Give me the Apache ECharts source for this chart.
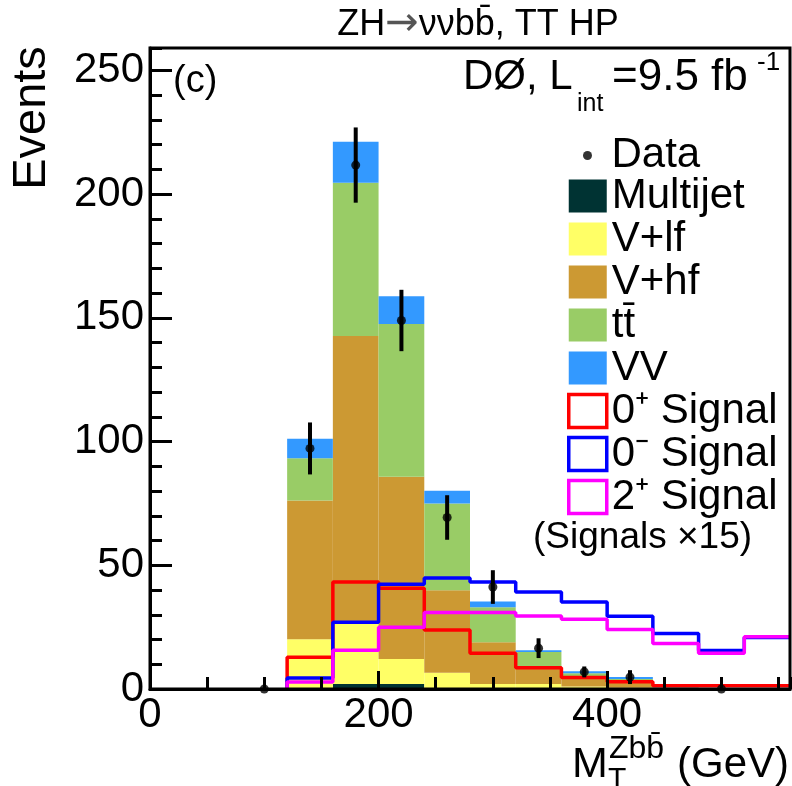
<!DOCTYPE html>
<html><head><meta charset="utf-8">
<script src="https://cdn.jsdelivr.net/npm/echarts@6/dist/echarts.min.js"></script>
<style>html,body{margin:0;padding:0;background:#fff}#c{width:792px;height:786px}</style>
</head><body><div id="c"></div>
<script>
// ---- data ----
const binEdges = [120,160,200,240,280,320,360,400,440,480,520,560];
const multijet = [0, 2.0, 2.0, 0, 0, 0, 0, 0, 0, 0, 0];
const vlf      = [20.1, 24.6, 10.1, 6.6, 2.0, 2.0, 1.0, 0.5, 0.2, 0, 0];
const vhf      = [56.1, 116.0, 73.7, 33.3, 16.9, 7.0, 3.8, 1.9, 0.3, 0, 0];
const ttbar    = [17.0, 62.0, 61.7, 35.1, 14.1, 5.9, 1.6, 1.6, 0.1, 0, 0];
const vv       = [7.9, 16.5, 11.2, 5.1, 2.4, 0.8, 0.8, 0.8, 0.1, 0, 0];
const sig0plus  = [12.8, 43.2, 40.7, 23.8, 14.4, 8.6, 4.6, 2.9, 1.3, 1.3, 1.3];
const sig0minus = [4.4, 27.0, 42.3, 44.8, 43.2, 39.2, 35.2, 29.4, 22.4, 15.6, 20.8];
const sig2plus  = [2.8, 15.7, 25.0, 30.9, 30.9, 29.5, 28.2, 24.0, 18.4, 14.4, 21.1];
const dataX   = [100, 140, 180, 220, 260, 300, 340, 380, 420, 500];
const dataY   = [0, 97.2, 211.7, 148.9, 69.3, 41.2, 16.5, 6.9, 4.8, 0];
const dataErr = [0, 10.5, 15.2, 12.4, 9.0, 6.8, 4.0, 2.2, 2.8, 0];
const xTickLabels = [0, 200, 400];
const yTickLabels = [0, 50, 100, 150, 200, 250];

const FONT = '"Liberation Sans", Arial, Helvetica, sans-serif';
const bgNames = ['Multijet', 'V+lf', 'V+hf', 't\u0074\u0304', 'VV'];
const bgValues = [multijet, vlf, vhf, ttbar, vv];
const bgColors = ['#003333', '#ffff66', '#cc9933', '#99cc66', '#3399ff'];

// stacked rectangles
const base = binEdges.slice(0, -1).map(() => 0);
const bgSeries = bgValues.map((vals, k) => {
  const items = vals.map((v, i) => {
    const it = [binEdges[i], binEdges[i + 1], base[i], base[i] + v];
    base[i] += v;
    return it;
  });
  return {
    name: bgNames[k], type: 'custom', z: 2, clip: true,
    itemStyle: { color: bgColors[k] },
    encode: { x: [0, 1], y: [2, 3] },
    data: items,
    renderItem: function (params, api) {
      const p0 = api.coord([api.value(0), api.value(3)]);
      const p1 = api.coord([api.value(1), api.value(2)]);
      return { type: 'rect', shape: { x: p0[0], y: p0[1], width: p1[0] - p0[0], height: p1[1] - p0[1] },
               style: { fill: bgColors[k] } };
    }
  };
});

function stepData(vals) {
  const d = [[binEdges[0], 0]];
  vals.forEach((v, i) => d.push([binEdges[i + 1], v]));
  return d;
}
const sigNames = ['0\u207A Signal', '0\u207B Signal', '2\u207A Signal'];
const sigVals = [sig0plus, sig0minus, sig2plus];
const sigColors = ['#ff0000', '#0000ff', '#ff00ff'];
const sigSeries = sigVals.map((vals, k) => ({
  name: sigNames[k], type: 'line', step: 'start', showSymbol: false, symbol: 'none', z: 3 + k * 0.1,
  color: sigColors[k], itemStyle: { color: sigColors[k] },
  lineStyle: { color: sigColors[k], width: 3.5 },
  data: stepData(vals), animation: false
}));

const errSeries = {
  type: 'custom', z: 5, clip: false,
  encode: { x: 0, y: 1 },
  data: dataX.map((x, i) => [x, dataY[i], dataErr[i]]),
  renderItem: function (params, api) {
    const x = api.value(0), y = api.value(1), e = api.value(2);
    const a = api.coord([x, y - e]), b = api.coord([x, y + e]);
    return { type: 'line', shape: { x1: a[0], y1: a[1], x2: b[0], y2: b[1] }, style: { stroke: '#000', lineWidth: 4 } };
  }
};
const dataSeries = {
  name: 'Data', type: 'scatter', z: 6, symbol: 'circle', symbolSize: 9,
  itemStyle: { color: '#000' }, data: dataX.map((x, i) => [x, dataY[i]])
};

const axisBase = { min: 0, type: 'value', splitLine: { show: false } };
const option = {
  animation: false,
  backgroundColor: '#fff',
  textStyle: { fontFamily: FONT },
  grid: { left: 150, right: 2, top: 48, bottom: 97, show: true, borderColor: '#000', borderWidth: 3, z: 10, backgroundColor: 'transparent' },
  xAxis: [
    Object.assign({}, axisBase, { max: 560, interval: 50, position: 'bottom', z: 11,
      axisLine: { show: true, lineStyle: { color: '#000', width: 3 } },
      axisTick: { show: true, inside: true, length: 12, lineStyle: { color: '#000', width: 3 } },
      axisLabel: { show: false } }),
    Object.assign({}, axisBase, { max: 560, interval: 200, position: 'bottom', z: 11,
      axisLine: { show: false },
      axisTick: { show: true, inside: true, length: 18, lineStyle: { color: '#000', width: 3 } },
      axisLabel: { show: true, showMaxLabel: false, color: '#000', fontSize: 42, fontFamily: FONT, margin: 5,
        formatter: v => (xTickLabels.indexOf(v) >= 0 ? String(v) : '') } })
  ],
  yAxis: [
    Object.assign({}, axisBase, { max: 259, interval: 10, position: 'left', z: 11,
      axisLine: { show: true, lineStyle: { color: '#000', width: 3 } },
      axisTick: { show: true, inside: true, length: 12, lineStyle: { color: '#000', width: 3 } },
      axisLabel: { show: false } }),
    Object.assign({}, axisBase, { max: 259, interval: 50, position: 'left', z: 11,
      axisLine: { show: false },
      axisTick: { show: true, inside: true, length: 22, lineStyle: { color: '#000', width: 3 } },
      axisLabel: { show: true, showMaxLabel: false, color: '#000', fontSize: 42, fontFamily: FONT, margin: 6,
        formatter: v => (yTickLabels.indexOf(v) >= 0 ? String(v) : '') } })
  ],
  legend: [
    { data: [{ name: 'Data', icon: 'circle' }], orient: 'vertical', left: 583, top: 134.5, padding: 0,
      itemWidth: 38, itemHeight: 9, selectedMode: false,
      textStyle: { fontSize: 42, lineHeight: 33, color: '#000', fontFamily: FONT } },
    { data: bgNames.map((n, k) => ({ name: n, icon: 'rect', itemStyle: { color: bgColors[k], borderWidth: 0 } }))
        .concat(sigNames.map((n, k) => ({ name: n, icon: 'rect',
          itemStyle: { color: '#fff', borderColor: sigColors[k], borderWidth: 3.5 } }))),
      orient: 'vertical', left: 567, top: 175, padding: 0, itemGap: 1,
      itemWidth: 38, itemHeight: 33, selectedMode: false,
      textStyle: { fontSize: 42, lineHeight: 33, color: '#000', fontFamily: FONT } }
  ],
  graphic: [
    { type: 'text', x: 478, y: 25, style: { text: 'ZH{a|\u2192}\u03BD\u03BDbb\u0304, TT HP', fontSize: 36, fontFamily: FONT, fill: '#000', align: 'center', verticalAlign: 'middle',
        rich: { a: { fontFamily: '"DejaVu Sans"', fontSize: 40, fill: '#555' } } } },
    { type: 'text', x: 173, y: 82, style: { text: '(c)', fontSize: 38, fontFamily: FONT, fill: '#000', align: 'left', verticalAlign: 'middle' } },
    { type: 'text', x: 463, y: 77.5, style: { text: 'D\u00D8, L', fontSize: 42, fontFamily: FONT, fill: '#000', align: 'left', verticalAlign: 'middle' } },
    { type: 'text', x: 577, y: 104, style: { text: 'int', fontSize: 25, fontFamily: FONT, fill: '#000', align: 'left', verticalAlign: 'middle' } },
    { type: 'text', x: 612, y: 77.5, style: { text: '=9.5 fb', fontSize: 44, fontFamily: FONT, fill: '#000', align: 'left', verticalAlign: 'middle' } },
    { type: 'text', x: 757, y: 63, style: { text: '-1', fontSize: 26, fontFamily: FONT, fill: '#000', align: 'left', verticalAlign: 'middle' } },
    { type: 'text', x: 533, y: 538, style: { text: '(Signals \u00D715)', fontSize: 37, fontFamily: FONT, fill: '#000', align: 'left', verticalAlign: 'middle' } },
    { type: 'text', x: 32, y: 118, rotation: Math.PI / 2, style: { text: 'Events', fontSize: 47, fontFamily: FONT, fill: '#000', align: 'center', verticalAlign: 'middle' } },
    { type: 'text', x: 572, y: 765.5, style: { text: 'M', fontSize: 43, fontFamily: FONT, fill: '#000', align: 'left', verticalAlign: 'middle' } },
    { type: 'text', x: 609, y: 749.5, style: { text: 'Zbb\u0304', fontSize: 32, fontFamily: FONT, fill: '#000', align: 'left', verticalAlign: 'middle' } },
    { type: 'text', x: 608, y: 780, style: { text: 'T', fontSize: 30, fontFamily: FONT, fill: '#000', align: 'left', verticalAlign: 'middle' } },
    { type: 'text', x: 677, y: 765.5, style: { text: '(GeV)', fontSize: 42, fontFamily: FONT, fill: '#000', align: 'left', verticalAlign: 'middle' } }
  ],
  series: bgSeries.concat(sigSeries, [errSeries, dataSeries])
};
const chart = echarts.init(document.getElementById('c'), null, { renderer: 'canvas' });
chart.setOption(option);
</script></body></html>
